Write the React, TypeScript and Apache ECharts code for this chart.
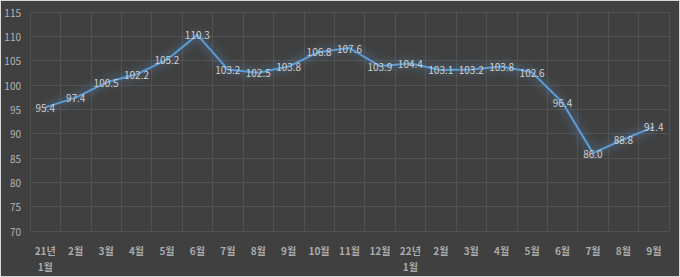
import React, { useEffect, useRef } from "react";
import * as echarts from "echarts";

const categories = [
  "21년\n1월", "2월", "3월", "4월", "5월", "6월", "7월", "8월", "9월", "10월", "11월", "12월",
  "22년\n1월", "2월", "3월", "4월", "5월", "6월", "7월", "8월", "9월",
];
const values = [
  95.4, 97.4, 100.5, 102.2, 105.2, 110.3, 103.2, 102.5, 103.8, 106.8, 107.6, 103.9,
  104.4, 103.1, 103.2, 103.8, 102.6, 96.4, 86.0, 88.8, 91.4,
];
const yMin = 70;
const yMax = 115;
const yStep = 5;

export default function App() {
  const ref = useRef<HTMLDivElement>(null);
  useEffect(() => {
    if (!ref.current) return;
    const chart = echarts.init(ref.current, undefined, { renderer: "svg" });
    const font = "'Noto Sans CJK KR', 'Noto Sans', sans-serif";
    chart.setOption({
      animation: false,
      backgroundColor: "#404040",
      grid: { left: 29, right: 10, top: 11, bottom: 45, containLabel: false },
      xAxis: {
        type: "category",
        data: categories,
        boundaryGap: true,
        axisLine: { show: false },
        axisTick: { show: false },
        splitLine: { show: true, interval: 0, lineStyle: { color: "#525252", width: 1 } },
        axisLabel: {
          interval: 0,
          color: "#ababab",
          fontSize: 10,
          fontFamily: font,
          fontWeight: "bold",
          margin: 11,
          lineHeight: 16,
        },
      },
      yAxis: {
        type: "value",
        min: yMin,
        max: yMax,
        interval: yStep,
        axisLine: { show: false },
        axisTick: { show: false },
        splitLine: { show: true, lineStyle: { color: "#525252", width: 1 } },
        axisLabel: {
          color: "#b4b4b4",
          fontSize: 10,
          fontFamily: font,
          margin: 9,
        },
      },
      series: [
        {
          type: "line",
          data: values,
          symbol: "circle",
          symbolSize: 0,
          showSymbol: true,
          lineStyle: {
            color: "#5b9bd5",
            width: 2,
            shadowColor: "rgba(91,155,213,0.95)",
            shadowBlur: 10,
          },
          itemStyle: { color: "#5b9bd5" },
          label: {
            show: true,
            position: "inside",
            color: "#cfcfcf",
            fontSize: 10,
            fontFamily: font,
            formatter: (p: any) => Number(p.value).toFixed(1),
          },
        },
      ],
    });
    return () => chart.dispose();
  }, []);
  return (
    <div
      style={{
        position: "absolute",
        left: 0,
        top: 0,
        width: 680,
        height: 277,
        boxSizing: "border-box",
        border: "1px solid #d9d9d9",
        background: "#404040",
      }}
    >
      <div ref={ref} style={{ width: 678, height: 275 }} />
    </div>
  );
}
